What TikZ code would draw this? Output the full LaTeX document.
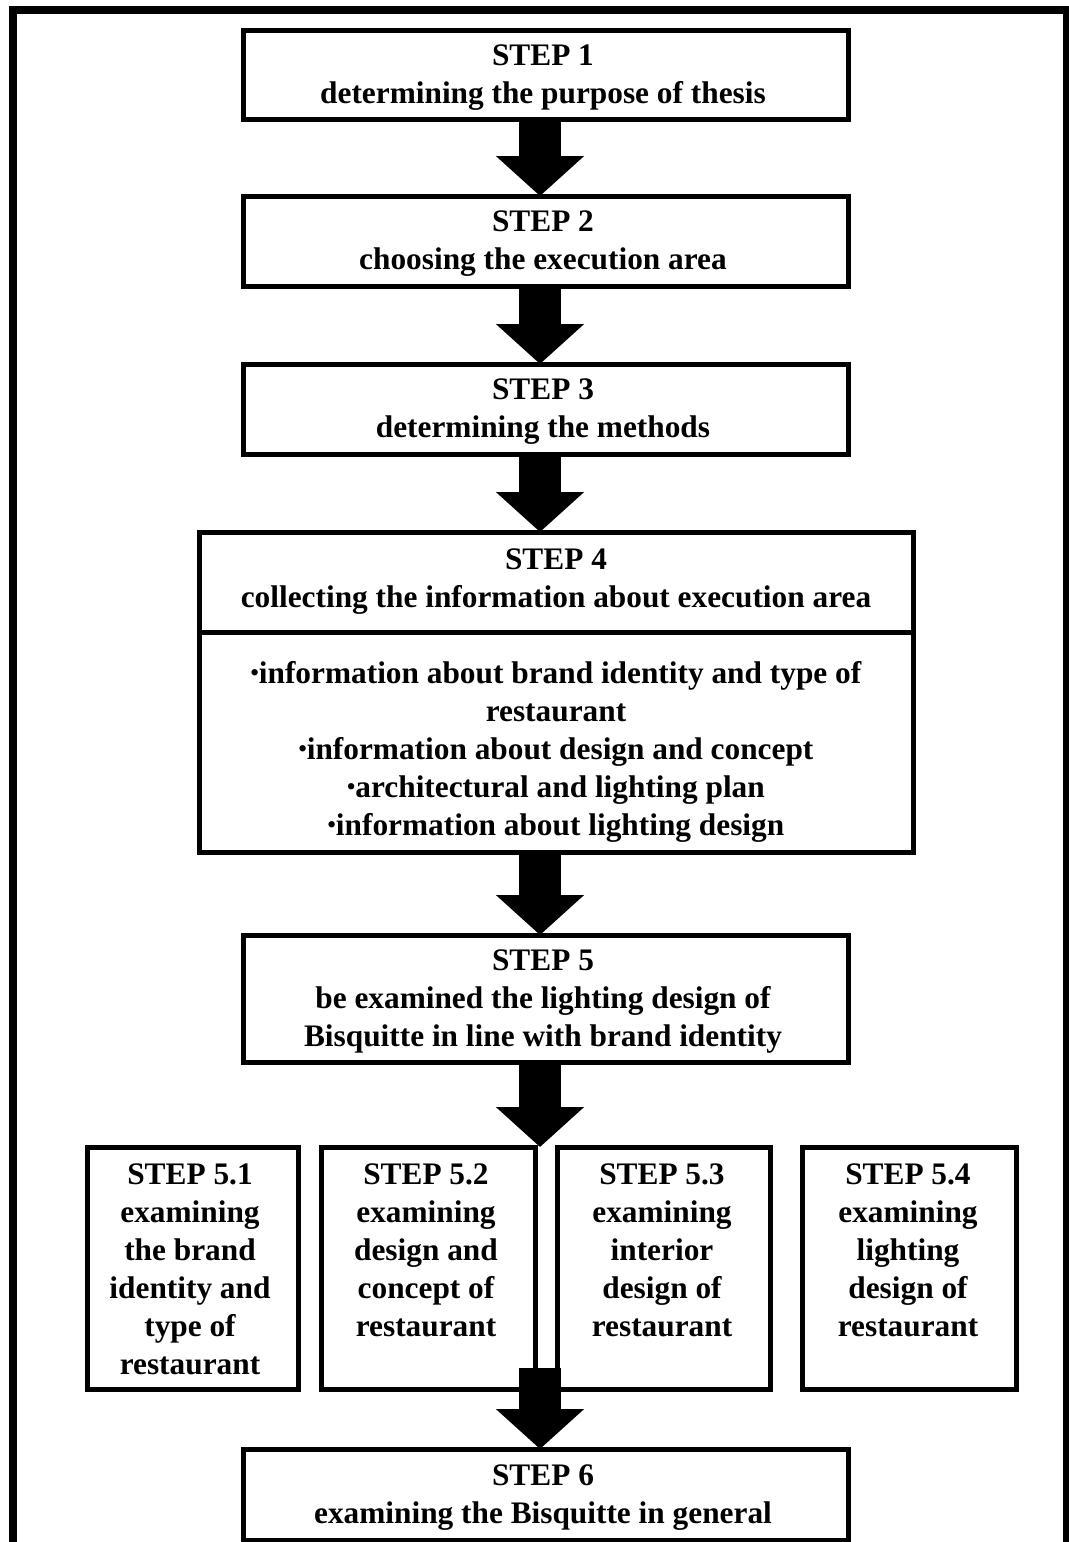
\documentclass[tikz,border=0pt]{standalone}
\usepackage{fontspec}
\usepackage{graphicx}
\setmainfont{Liberation Serif}
\usetikzlibrary{arrows.meta}

% small raised bullet used in the list of step 4
\newcommand{\sbul}{\raisebox{0.1em}{\scalebox{0.75}{•}}}

\tikzset{
  stepbox/.style={draw=black, line width=3.75pt, fill=none, inner sep=0pt},
  txt/.style={align=center, inner sep=0pt, yshift=-2.25pt,
    font=\fontsize{23.5}{28.5}\selectfont\bfseries},
  bigarrow/.style={line width=32pt, line cap=butt,
    -{Triangle[width=64.5pt,length=30pt]}},
}

\begin{document}
\begin{tikzpicture}[x=0.75pt,y=-0.75pt]
\useasboundingbox (0,0) rectangle (1069,1542);
\clip (0,0) rectangle (1069,1542);

% outer frame, open at the bottom
\draw[line width=6pt] (13,1560) -- (13,10) -- (1067,10) -- (1067,1560);

% main steps
\node[stepbox, minimum width=605*0.75pt, minimum height=89*0.75pt] (s1) at (545.5,74.5) {};
\node[txt] (t1) at (543,74.5) {STEP 1\\determining the purpose of thesis};

\node[stepbox, minimum width=605*0.75pt, minimum height=90*0.75pt] (s2) at (545.5,241) {};
\node[txt] (t2) at (543,241) {STEP 2\\choosing the execution area};

\node[stepbox, minimum width=605*0.75pt, minimum height=90*0.75pt] (s3) at (545.5,409) {};
\node[txt] (t3) at (543,409) {STEP 3\\determining the methods};

\node[stepbox, minimum width=714*0.75pt, minimum height=320*0.75pt] (s4) at (556,692) {};
\draw[line width=3.75pt] (s4.west |- 0,632) -- (s4.east |- 0,632);
\node[txt] (t4) at (556,578.5) {STEP 4\\collecting the information about execution area};
\node[txt] (t4b) at (556,749) {\sbul information about brand identity and type of\\restaurant\\
  \sbul information about design and concept\\\sbul architectural and lighting plan\\
  \sbul information about lighting design};

\node[stepbox, minimum width=605*0.75pt, minimum height=127*0.75pt] (s5) at (545.5,998.5) {};
\node[txt] (t5) at (543,998.5) {STEP 5\\be examined the lighting design of\\Bisquitte in line with brand identity};

% sub-steps of step 5
\node[stepbox, minimum width=211*0.75pt, minimum height=242*0.75pt] (s51) at (192.5,1268) {};
\node[txt] (t51) at (190,1266) {STEP 5.1\\examining\\the brand\\identity and\\type of\\restaurant};

\node[stepbox, minimum width=214*0.75pt, minimum height=242*0.75pt] (s52) at (428,1268) {};
\node[txt] (t52) at (426,1247) {STEP 5.2\\examining\\design and\\concept of\\restaurant};

\node[stepbox, minimum width=213*0.75pt, minimum height=242*0.75pt] (s53) at (663.5,1268) {};
\node[txt] (t53) at (662,1247) {STEP 5.3\\examining\\interior\\design of\\restaurant};

\node[stepbox, minimum width=214*0.75pt, minimum height=242*0.75pt] (s54) at (909,1268) {};
\node[txt] (t54) at (908,1247) {STEP 5.4\\examining\\lighting\\design of\\restaurant};

\node[stepbox, minimum width=605*0.75pt, minimum height=91*0.75pt] (s6) at (545.5,1494.5) {};
\node[txt] (t6) at (543,1494.5) {STEP 6\\examining the Bisquitte in general};

% block arrows between the steps
\coordinate (a1) at (540,119);   \coordinate (b1) at (540,196);
\coordinate (a2) at (540,286);   \coordinate (b2) at (540,364);
\coordinate (a3) at (540,454);   \coordinate (b3) at (540,532);
\coordinate (a4) at (540,852);   \coordinate (b4) at (540,935);
\coordinate (a5) at (540,1062);  \coordinate (b5) at (540,1147);
\coordinate (a6) at (540,1368);  \coordinate (b6) at (540,1449);
\foreach \i in {1,...,6}{
  \draw[bigarrow] (a\i) -- (b\i);
}
\end{tikzpicture}
\end{document}
